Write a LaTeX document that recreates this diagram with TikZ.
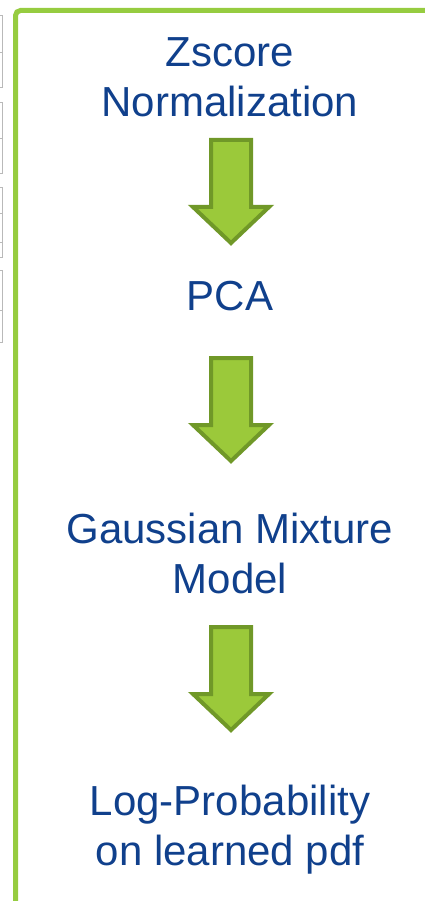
\documentclass[tikz,border=0pt]{standalone}
\usepackage{fontspec}
\setmainfont{Liberation Sans}
\definecolor{StepBlue}{RGB}{16, 64, 140}
\definecolor{FrameGreen}{RGB}{150, 204, 64}
\definecolor{ArrowFill}{RGB}{155, 201, 58}
\definecolor{ArrowEdge}{RGB}{112, 152, 40}
\usetikzlibrary{positioning}

\begin{document}
\begin{tikzpicture}[x=1pt, y=-1pt,
        steptext/.style={StepBlue, align=center, inner sep=0pt, anchor=base,
            font=\fontsize{42}{50}\selectfont},
        panelbox/.style={draw=gray!55, line width=0.8pt},
        downarrow/.pic={
            \draw[fill=ArrowFill, draw=ArrowEdge, line width=4pt, line join=miter]
                (-20,0) -- (20,0) -- (20,67) -- (38,67) -- (0,103)
                -- (-38,67) -- (-20,67) -- cycle;
        }]
        \useasboundingbox (0,0) rectangle (424,901);

        % Edge of the neighbouring panel
        \draw[panelbox] (-5,15) rectangle (2.5,87);
        \draw[panelbox] (-5,52) -- (2.5,52);
        \draw[panelbox] (-5,102) rectangle (2.5,173);
        \draw[panelbox] (-5,138) -- (2.5,138);
        \draw[panelbox] (-5,187) rectangle (2.5,257);
        \draw[panelbox] (-5,213) -- (2.5,213);
        \draw[panelbox] (-5,242) -- (2.5,242);
        \draw[panelbox] (-5,270) rectangle (2.5,342);
        \draw[panelbox] (-5,310) -- (2.5,310);

        % Green frame
        \draw[FrameGreen, line width=5pt, rounded corners=5pt]
            (430,10.5) -- (15.5,10.5) -- (15.5,910);

        % Pipeline steps (base = last line)
        \node[steptext] (zscore) at (230,117) {Zscore\\Normalization};
        \node[steptext] (pca) at (230,310) {PCA};
        \node[steptext] (gmm) at (230,593) {Gaussian Mixture\\Model};
        \node[steptext] (logprob) at (230,865) {Log-Probability\\on learned pdf};

        % Arrows between steps
        \pic at (231,140) {downarrow};
        \pic at (231,358) {downarrow};
        \pic at (231,627) {downarrow};
    \end{tikzpicture}
\end{document}
